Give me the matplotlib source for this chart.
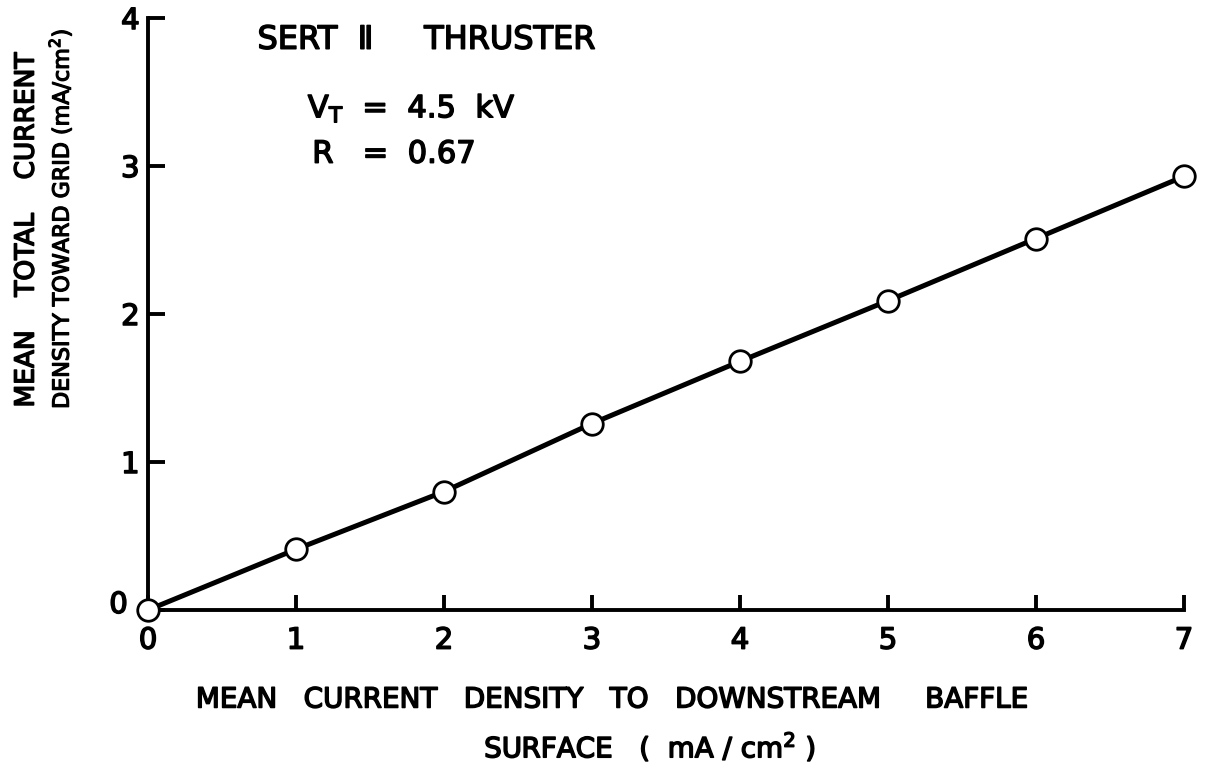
import numpy as np
import matplotlib.pyplot as plt
import matplotlib.patheffects as pe
from matplotlib.transforms import ScaledTranslation

# baffle current density vs total current density toward grid
baffle = [0, 1, 2, 3, 4, 5, 6, 7]
grid = [0.0, 0.41, 0.80, 1.26, 1.68, 2.09, 2.51, 2.93]
xticks = [0, 1, 2, 3, 4, 5, 6, 7]
yticks = [0, 1, 2, 3, 4]

plt.rcParams['font.family'] = ['DejaVu Sans']
plt.rcParams['mathtext.default'] = 'regular'

# slightly heavier lettering than the regular weight
ink = [pe.withStroke(linewidth=1.1, foreground='k')]

fig = plt.figure(figsize=(12.10, 7.67), dpi=100)
ax = fig.add_axes([0.1223, 0.2047, 0.8562, 0.7718])

ax.plot(baffle, grid, color='k', lw=3.6, marker='o', ms=15.5,
        mfc='white', mec='k', mew=2, clip_on=False, zorder=3)

ax.set_xlim(0, 7)
ax.set_ylim(0, 4)
ax.set_xticks(xticks)
ax.set_yticks(yticks)
ax.set_xticklabels([str(v) for v in xticks], fontsize=21)
ax.set_yticklabels([str(v) for v in yticks], fontsize=21)
ax.tick_params(axis='x', direction='in', length=11, width=2.8, pad=12)
ax.tick_params(axis='y', direction='in', length=12, width=2.8, pad=6)
for s in ['top', 'right']:
    ax.spines[s].set_visible(False)
for s in ['left', 'bottom']:
    ax.spines[s].set_linewidth(2.8)
for lab in ax.get_xticklabels() + ax.get_yticklabels():
    lab.set_path_effects(ink)

# y "0" sits left of the origin marker
zero = ax.get_yticklabels()[0]
zero.set_transform(zero.get_transform() + ScaledTranslation(-12 / 100, 8 / 100, fig.dpi_scale_trans))

ax.text(0.74, 3.85, 'SERT  Ⅱ     THRUSTER', fontsize=23, va='center', ha='left', path_effects=ink)
ax.text(1.08, 3.39, r'V$_{T}$  =  4.5  kV', fontsize=22, va='center', ha='left', path_effects=ink)
ax.text(1.11, 3.08, 'R   =  0.67', fontsize=22, va='center', ha='left', path_effects=ink)

# two-line axis labels placed by hand
fig.text(0.022, 0.70, 'MEAN    TOTAL    CURRENT', rotation=90, fontsize=19,
         ha='center', va='center', path_effects=ink)
fig.text(0.050, 0.715, 'DENSITY TOWARD GRID (mA/cm$^{2}$)', rotation=90,
         fontsize=16, ha='center', va='center',
         path_effects=[pe.withStroke(linewidth=0.9, foreground='k')])
fig.text(0.506, 0.088, 'MEAN   CURRENT   DENSITY   TO   DOWNSTREAM     BAFFLE',
         fontsize=20, ha='center', va='center', path_effects=ink)
fig.text(0.537, 0.026, 'SURFACE   (  mA / cm$^{2}$ )',
         fontsize=20, ha='center', va='center', path_effects=ink)

fig.savefig('out.png', dpi=100, facecolor='white')
